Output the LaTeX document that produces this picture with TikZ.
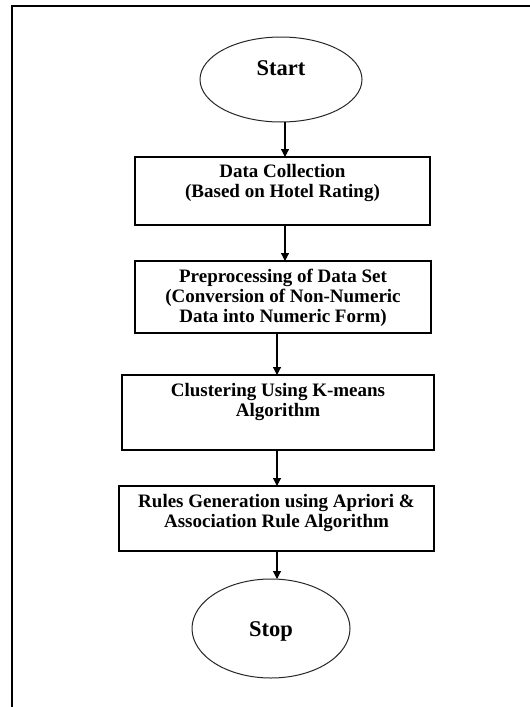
\documentclass[tikz,border=0pt]{standalone}
\usepackage{fontspec}
\setmainfont{Liberation Serif}
\usepackage{tikz}
\usetikzlibrary{shapes.geometric, arrows.meta, positioning}
\tikzset{
    base/.style={draw=black, inner sep=0pt, outer sep=0pt},
    process/.style={base, rectangle, line width=1.3pt},
    terminal/.style={base, ellipse, line width=1pt, draw=black!85},
    txt/.style={font=\fontsize{19}{20.3}\selectfont\bfseries, align=center, inner sep=0pt},
    bigtxt/.style={txt, font=\fontsize{22.5}{24}\selectfont\bfseries},
    arrow/.style={-{Triangle[length=8pt, width=8pt]}, line width=1.2pt, draw=black}
}

\begin{document}
\begin{tikzpicture}[x=1pt, y=-1pt]
        % Page size and the cropped frame
        \useasboundingbox (0,0) rectangle (530,707);
        \draw[line width=2.4pt] (12,707) -- (12,6) -- (530,6);

        % Terminals and process boxes
        \node[terminal, minimum width=162pt, minimum height=85pt] (start) at (281,79.5) {};
        \node[process, minimum width=295pt, minimum height=68pt] (collect) at (282.5,191) {};
        \node[process, minimum width=296pt, minimum height=72pt] (prep) at (283,297) {};
        \node[process, minimum width=312pt, minimum height=75pt] (cluster) at (278,412.5) {};
        \node[process, minimum width=315pt, minimum height=65pt] (rules) at (276.5,518.5) {};
        \node[terminal, minimum width=158pt, minimum height=99pt] (stop) at (271,628.5) {};

        % Texts (set near the top of each box)
        \node[bigtxt] (starttxt) at (281,68) {Start};
        \node[txt] (collecttxt) at (282.5,183) {Data Collection\\(Based on Hotel Rating)};
        \node[txt] (preptxt) at (283,298) {Preprocessing of Data Set\\(Conversion of Non-Numeric\\Data into Numeric Form)};
        \node[txt] (clustertxt) at (278,402) {Clustering Using K-means\\Algorithm};
        \node[txt] (rulestxt) at (276.5,513) {Rules Generation using Apriori \&\\Association Rule Algorithm};
        \node[bigtxt] (stoptxt) at (271,631) {Stop};

        % Flow arrows
        \draw[arrow] ([xshift=4pt]start.south) -- ([xshift=2.5pt]collect.north);
        \draw[arrow] ([xshift=2.5pt]collect.south) -- ([xshift=2pt]prep.north);
        \draw[arrow] ([xshift=-6pt]prep.south) -- ([xshift=-1pt]cluster.north);
        \draw[arrow] ([xshift=-1pt]cluster.south) -- ([xshift=0.5pt]rules.north);
        \draw[arrow] ([xshift=0.5pt]rules.south) -- ([xshift=6pt]stop.north);
    \end{tikzpicture}
\end{document}
